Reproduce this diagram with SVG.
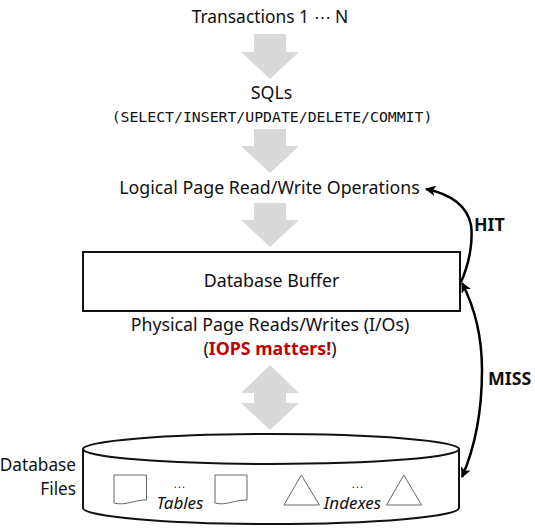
<svg xmlns="http://www.w3.org/2000/svg" width="535" height="529" viewBox="0 0 535 529">
<style>
text{font-family:"Noto Sans","Open Sans","Liberation Sans",sans-serif;font-size:17.8px;fill:#111}
.m{text-anchor:middle}
.t{font-size:17.4px}
.e{text-anchor:end;font-size:17.2px}
.mono{font-family:"DejaVu Sans Mono","Liberation Mono",monospace;font-size:14.8px}
.b{font-weight:700}
.i{font-style:italic;font-size:17px}
.d{font-size:11px;letter-spacing:1.2px}
.red{fill:#c00000}
.big{fill:#d9d9d9;stroke:none}
.shape{fill:#fff;stroke:#111;stroke-width:2}
.thin{fill:#fff;stroke:#666;stroke-width:1}
.c{fill:none;stroke:#000;stroke-width:2.5}
</style>
<defs>
<marker id="ah" viewBox="0 0 10 10" refX="9" refY="5" markerWidth="4.2" markerHeight="4.2" orient="auto-start-reverse"><path d="M0 0L10 5L0 10L2.5 5Z" fill="#000"/></marker>
</defs>
<g id="arrows">
<path class="big" d="M254 34H286V52H299L270 79L241 52H254Z"/>
<path class="big" d="M254 129H286V146H299L270 173L241 146H254Z"/>
<path class="big" d="M254 203H286V220H299L270 247L241 220H254Z"/>
<path class="big" d="M270 365L299 393H286V403H299L270 430L241 403H254V393H241Z"/>
</g>
<g id="transactions"><text class="m t" x="270" y="23">Transactions 1 ⋯ N</text></g>
<g id="sqls"><text class="m" x="271.500" y="99">SQLs</text><text class="m mono" x="272" y="122">(SELECT/INSERT/UPDATE/DELETE/COMMIT)</text></g>
<g id="logical"><text class="m" x="269.500" y="194">Logical Page Read/Write Operations</text></g>
<g id="buffer"><rect class="shape" x="83" y="252" width="377" height="59"/><text class="m" x="271.500" y="287">Database Buffer</text></g>
<g id="physical"><text class="m" x="270" y="331">Physical Page Reads/Writes (I/Os)</text><text class="m" x="270" y="355">(<tspan class="b red">IOPS matters!</tspan>)</text></g>
<g id="db">
<path class="shape" d="M83 448.500V508C83 516.500 167 524 271 524S459 516.500 459 508V448.500"/>
<ellipse class="shape" cx="271" cy="449" rx="188" ry="15"/>
<text class="e" x="76" y="471">Database</text><text class="e" x="76" y="495">Files</text>
<path class="thin" d="M114 475H146.500V500C133 500 126 506 114 503Z"/>
<path class="thin" d="M215 475H247V500C233 500 226 506 215 503Z"/>
<path class="thin" d="M301.300 475L319.400 505H284Z"/>
<path class="thin" d="M403.800 475L421.500 505H386.500Z"/>
<text class="m d" x="180" y="487.500">...</text><text class="m i" x="180" y="509">Tables</text>
<text class="m d" x="358" y="487.500">...</text><text class="m i" x="352.500" y="509">Indexes</text>
</g>
<g id="connectors">
<path class="c" marker-end="url(#ah)" d="M461 282C470 262 473 240 471 225C467 205 450 194 426 189"/>
<path class="c" marker-start="url(#ah)" marker-end="url(#ah)" d="M462 283C476 310 482 340 482 370C482 410 476 445 462 477"/>
</g>
<g id="labels"><text class="b" x="474" y="231">HIT</text><text class="b" x="488" y="385">MISS</text></g>
</svg>
